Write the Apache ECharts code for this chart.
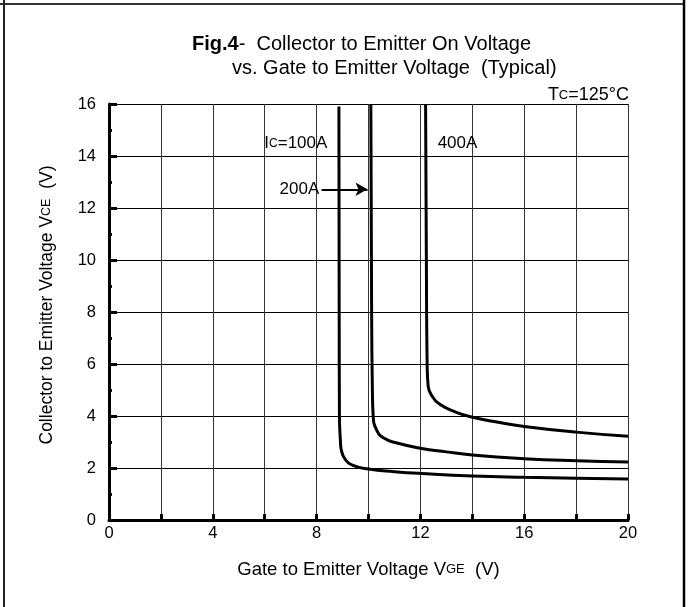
<!DOCTYPE html>
<html>
<head>
<meta charset="utf-8">
<script src="https://cdn.jsdelivr.net/npm/echarts@6/dist/echarts.min.js"></script>
<style>
html,body{margin:0;padding:0;background:#fff;}
#c{width:694px;height:607px;}
</style>
</head>
<body>
<div id="c"></div>
<script>
// ---- data ----
const xTicks = [0, 4, 8, 12, 16, 20];
const yTicks = [0, 2, 4, 6, 8, 10, 12, 14, 16];

const vge100 = [8.86, 8.87, 8.88, 8.92, 8.95, 9.11, 9.43, 10.0, 11.0, 12.0, 14.0, 16.0, 18.0, 20.0];
const vce100 = [15.9, 8.0, 4.0, 3.0, 2.7, 2.32, 2.09, 1.96, 1.86, 1.79, 1.69, 1.64, 1.61, 1.58];

const vge200 = [10.09, 10.12, 10.15, 10.18, 10.31, 10.59, 11.1, 12.0, 13.0, 14.0, 16.0, 18.0, 20.0];
const vce200 = [16.0, 8.0, 5.0, 4.0, 3.47, 3.15, 2.96, 2.76, 2.62, 2.5, 2.36, 2.28, 2.23];

const vge400 = [12.2, 12.23, 12.26, 12.3, 12.46, 12.78, 13.29, 13.93, 15.0, 16.0, 18.0, 20.0];
const vce400 = [16.0, 10.0, 6.0, 5.14, 4.75, 4.43, 4.18, 3.97, 3.76, 3.6, 3.38, 3.22];

const noteText = ['I{s|C}=100A', '400A', '200A'];
const noteX = [7.2, 13.43, 7.34];
const noteY = [14.47, 14.47, 12.72];
const arrowX = [8.19, 9.96];
const arrowY = [12.72, 12.72];

const FONT = '"Liberation Sans", Arial, sans-serif';
function pairs(xs, ys) { return xs.map((x, i) => [x, ys[i]]); }

const curveStyle = { color: '#000', width: 3 };
function curve(name, xs, ys) {
  return {
    name: name, type: 'line', data: pairs(xs, ys), smooth: 0.5,
    showSymbol: false, symbol: 'none', lineStyle: curveStyle, z: 5, animation: false
  };
}

const chart = echarts.init(document.getElementById('c'), null, { renderer: 'canvas' });
chart.setOption({
  backgroundColor: '#fff',
  animation: false,
  textStyle: { fontFamily: FONT },
  grid: { left: 109, right: 66, top: 104, bottom: 87, containLabel: false },
  xAxis: {
    type: 'value', min: 0, max: 20, interval: 2,
    name: 'Gate to Emitter Voltage V{s|GE}  (V)', nameLocation: 'middle', nameGap: 40,
    nameTextStyle: { color: '#000', fontSize: 18.5, fontFamily: FONT, rich: { s: { fontSize: 13, color: '#000', fontFamily: FONT } } },
    axisLine: { show: true, lineStyle: { color: '#000', width: 3 } },
    axisTick: { show: true, inside: true, length: 6, lineStyle: { color: '#000', width: 3 } },
    axisLabel: { color: '#000', fontSize: 16.5, fontFamily: FONT, margin: 5,
      formatter: v => (xTicks.indexOf(v) >= 0 ? String(v) : '') },
    splitLine: { show: true, lineStyle: { color: '#333', width: 1 } }
  },
  yAxis: {
    type: 'value', min: 0, max: 16, interval: 2,
    name: 'Collector to Emitter Voltage V{s|CE}  (V)', nameLocation: 'middle', nameGap: 53, nameRotate: 90,
    nameTextStyle: { color: '#000', fontSize: 17.5, fontFamily: FONT, padding: [0, 0, 0, 14],
      rich: { s: { fontSize: 12.5, color: '#000', fontFamily: FONT } } },
    axisLine: { show: true, lineStyle: { color: '#000', width: 3 } },
    axisTick: { show: true, inside: true, length: 8, lineStyle: { color: '#000', width: 3 } },
    minorTick: { show: true, splitNumber: 2, length: 3, lineStyle: { color: '#000', width: 3 } },
    axisLabel: { color: '#000', fontSize: 16.5, fontFamily: FONT, margin: 13,
      formatter: v => (yTicks.indexOf(v) >= 0 ? String(v) : '') },
    splitLine: { show: true, lineStyle: { color: '#000', width: 1 } }
  },
  series: [
    curve('100A', vge100, vce100),
    curve('200A', vge200, vce200),
    curve('400A', vge400, vce400),
    {
      name: 'notes', type: 'scatter', symbolSize: 0, z: 6,
      itemStyle: { opacity: 1, color: '#000' },
      data: noteText.map((t, i) => ({ value: [noteX[i], noteY[i]], txt: t })),
      label: {
        show: true, position: 'inside', color: '#000', fontSize: 17, fontFamily: FONT,
        formatter: p => p.data.txt,
        rich: { s: { fontSize: 12, color: '#000', fontFamily: FONT } }
      },
      emphasis: { disabled: true },
      markLine: {
        silent: true, symbol: ['none', 'arrow'], symbolSize: [10, 12],
        label: { show: false },
        lineStyle: { color: '#000', width: 2, type: 'solid' },
        data: [[{ coord: [arrowX[0], arrowY[0]] }, { coord: [arrowX[1], arrowY[1]] }]]
      }
    }
  ],
  graphic: [
    { type: 'line', shape: { x1: 0, y1: 4, x2: 684, y2: 4 }, style: { stroke: '#333', lineWidth: 2 } },
    { type: 'line', shape: { x1: 4, y1: 0, x2: 4, y2: 607 }, style: { stroke: '#222', lineWidth: 2 } },
    { type: 'line', shape: { x1: 684, y1: 0, x2: 684, y2: 607 }, style: { stroke: '#000', lineWidth: 2.5 } },
    { type: 'text', left: 192, top: 34, style: { text: '{b|Fig.4}-  Collector to Emitter On Voltage', fill: '#000', font: '20px ' + FONT,
      rich: { b: { fontWeight: 'bold', fontSize: 20, fontFamily: FONT, fill: '#000' } } } },
    { type: 'text', left: 232, top: 58, style: { text: 'vs. Gate to Emitter Voltage  (Typical)', fill: '#000', font: '20px ' + FONT } },
    { type: 'text', right: 65, top: 86, style: { text: 'T{s|C}=125°C', fill: '#000', font: '18px ' + FONT,
      rich: { s: { fontSize: 13, fontFamily: FONT, fill: '#000' } } } }
  ]
});
</script>
</body>
</html>
